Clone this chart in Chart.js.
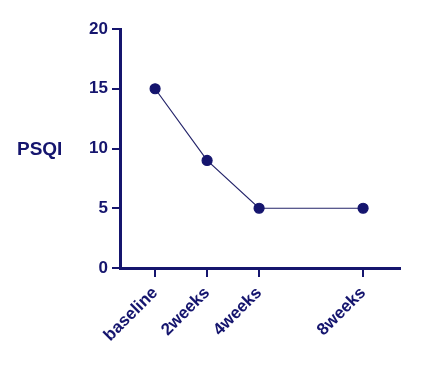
<!DOCTYPE html>
<html>
<head>
<meta charset="utf-8">
<script src="https://cdn.jsdelivr.net/npm/chart.js@4"></script>
<style>
  html, body { margin: 0; padding: 0; background: #fff; }
  #wrap { width: 424px; height: 368px; }
</style>
</head>
<body>
<div id="wrap"><canvas id="psqi-chart" width="424" height="368"></canvas></div>
<script>
// time points (weeks) and their labels
const timeLabels = ['baseline', '2weeks', '4weeks', '8weeks'];
const weeks = [0, 2, 4, 8];
const psqiValues = [15, 9, 5, 5];
const yTicks = [0, 5, 10, 15, 20];

const navy = '#15156e';
const font = { family: 'Liberation Sans, Arial, Helvetica, sans-serif', size: 17, weight: 'bold' };

const sideTitle = {
    id: 'sideTitle',
    afterDraw(chart) {
        const ctx = chart.ctx;
        const area = chart.chartArea;
        ctx.save();
        ctx.font = 'bold 19px Liberation Sans, Arial, sans-serif';
        ctx.fillStyle = navy;
        ctx.textAlign = 'left';
        ctx.textBaseline = 'middle';
        ctx.fillText('PSQI', 17, (area.top + area.bottom) / 2 + 1);
        ctx.restore();
    }
};

const ctx = document.getElementById('psqi-chart').getContext('2d');
new Chart(ctx, {
    type: 'line',
    data: {
        datasets: [{
            label: 'PSQI',
            data: weeks.map((w, i) => ({ x: w, y: psqiValues[i] })),
            borderColor: '#24246a',
            borderWidth: 1.2,
            pointRadius: 5,
            pointBackgroundColor: navy,
            pointBorderColor: navy,
            fill: false,
            tension: 0
        }]
    },
    options: {
        responsive: false,
        animation: false,
        layout: { padding: { left: 0, right: 24, top: 29, bottom: 0 } },
        plugins: { legend: { display: false }, tooltip: { enabled: false } },
        scales: {
            x: {
                type: 'linear',
                min: -1.35,
                max: 9.42,
                afterBuildTicks: scale => { scale.ticks = weeks.map(v => ({ value: v })); },
                afterFit: scale => { scale.height = 100; },
                grid: { display: true, drawOnChartArea: false, drawTicks: true, tickLength: 9, color: navy, lineWidth: 2 },
                border: { display: true, color: navy, width: 3 },
                ticks: {
                    autoSkip: false,
                    minRotation: 45,
                    maxRotation: 45,
                    padding: 6,
                    color: navy,
                    font: font,
                    callback: v => timeLabels[weeks.indexOf(v)]
                }
            },
            y: {
                min: 0,
                max: 20,
                afterBuildTicks: scale => { scale.ticks = yTicks.map(v => ({ value: v })); },
                afterFit: scale => { scale.width = 120; },
                grid: { display: true, drawOnChartArea: false, drawTicks: true, tickLength: 8, color: navy, lineWidth: 2 },
                border: { display: true, color: navy, width: 3 },
                ticks: { padding: 4, color: navy, font: font }
            }
        }
    },
    plugins: [sideTitle]
});
</script>
</body>
</html>
